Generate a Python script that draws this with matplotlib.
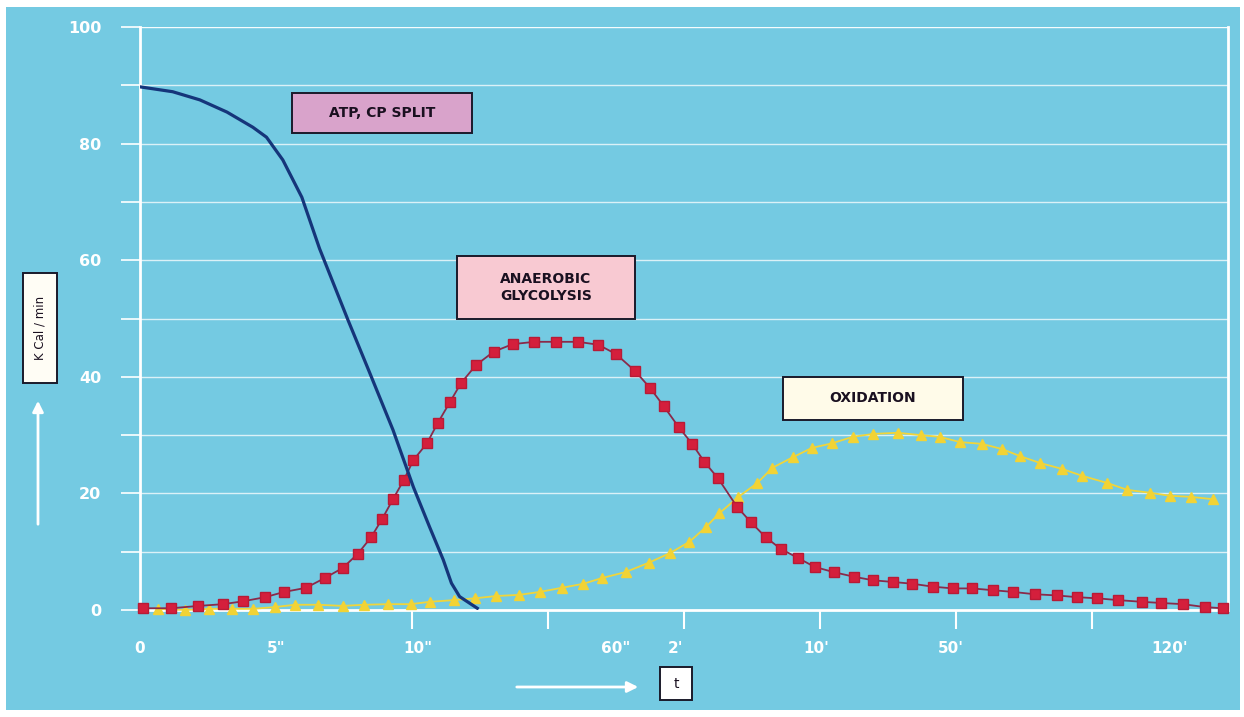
import matplotlib
matplotlib.use('Agg')
import matplotlib.pyplot as plt
from matplotlib.patches import Rectangle

# x in tick units (0 = start, each major tick = 1 step), y in K Cal / min
atp_x = [0.01, 0.24, 0.44, 0.64, 0.83, 0.93, 1.05, 1.19, 1.32, 1.53, 1.68, 1.86, 2.01, 2.13, 2.23, 2.29, 2.35, 2.48]
atp_y = [89.7, 88.9, 87.5, 85.4, 82.8, 81.1, 77.2, 70.8, 62.0, 49.7, 41.2, 30.9, 21.1, 14.2, 8.6, 4.6, 2.3, 0.3]

anaer_x = [0.02, 0.23, 0.43, 0.61, 0.76, 0.92, 1.06, 1.22, 1.36, 1.49, 1.60, 1.70, 1.78, 1.86, 1.94,
           2.01, 2.11, 2.19, 2.28, 2.36, 2.47, 2.60, 2.74, 2.90, 3.06, 3.22, 3.37, 3.50, 3.64, 3.75,
           3.85, 3.96, 4.06, 4.15, 4.25, 4.39, 4.49, 4.60, 4.71, 4.84, 4.96, 5.10, 5.25, 5.39, 5.54,
           5.68, 5.83, 5.98, 6.12, 6.27, 6.42, 6.58, 6.74, 6.89, 7.04, 7.19, 7.37, 7.51, 7.67, 7.83, 7.96]
anaer_y = [0.3, 0.3, 0.7, 1.0, 1.5, 2.2, 3.1, 3.8, 5.5, 7.2, 9.6, 12.5, 15.6, 19.0, 22.3,
           25.7, 28.6, 32.1, 35.7, 38.9, 42.0, 44.3, 45.6, 46.0, 46.0, 46.0, 45.5, 43.9, 41.0, 38.1,
           35.0, 31.4, 28.5, 25.4, 22.6, 17.7, 15.1, 12.5, 10.5, 8.9, 7.4, 6.5, 5.7, 5.1, 4.8,
           4.5, 4.0, 3.7, 3.7, 3.4, 3.1, 2.7, 2.5, 2.2, 2.0, 1.7, 1.4, 1.2, 1.0, 0.5, 0.3]

oxid_x = [0.13, 0.33, 0.51, 0.68, 0.83, 0.99, 1.14, 1.31, 1.49, 1.65, 1.82, 1.99, 2.13, 2.31, 2.46,
          2.62, 2.79, 2.94, 3.10, 3.26, 3.40, 3.57, 3.74, 3.90, 4.04, 4.16, 4.26, 4.40, 4.54, 4.65,
          4.80, 4.94, 5.09, 5.24, 5.39, 5.57, 5.74, 5.88, 6.03, 6.19, 6.34, 6.47, 6.62, 6.78, 6.93,
          7.11, 7.26, 7.43, 7.57, 7.73, 7.89]
oxid_y = [0.2, 0.0, 0.2, 0.2, 0.2, 0.5, 0.9, 0.9, 0.7, 0.9, 1.0, 1.0, 1.4, 1.7, 2.0,
          2.4, 2.6, 3.1, 3.8, 4.5, 5.5, 6.5, 8.1, 9.8, 11.7, 14.2, 16.6, 19.4, 21.8, 24.4,
          26.2, 27.8, 28.6, 29.7, 30.2, 30.4, 30.0, 29.7, 28.8, 28.5, 27.6, 26.4, 25.2, 24.2, 23.0,
          21.8, 20.6, 20.1, 19.6, 19.4, 19.0]

label_pos = [0, 1, 2.04, 3.5, 3.94, 4.97, 5.96, 7.57]
label_txt = ['0', '5"', '10"', '60"', "2'", "10'", "50'", "120'"]
y_labels = [0, 20, 40, 60, 80, 100]

W, H = 1244, 717
bg = '#74cae2'

fig = plt.figure(figsize=(W / 100, H / 100), dpi=100, facecolor='white')
fig.add_artist(Rectangle((6 / W, 7 / H), 1234 / W, 703 / H, transform=fig.transFigure,
                         facecolor=bg, edgecolor='none', zorder=-10))

ax = fig.add_axes([140 / W, 1 - 610 / H, 1088 / W, 583 / H])
ax.set_facecolor('none')
ax.set_xlim(0, 8)
ax.set_ylim(0, 100)

for s in ['left', 'bottom', 'right']:
    ax.spines[s].set_color('white')
    ax.spines[s].set_linewidth(2)
ax.spines['top'].set_visible(False)

# grid every 10
for g in range(10, 101, 10):
    ax.axhline(g, color='white', lw=1.0, alpha=0.75 if g < 100 else 0.95, zorder=1)

ax.set_yticks(range(0, 101, 10))
ax.set_yticklabels([str(v) if v in y_labels else '' for v in range(0, 101, 10)])
ax.tick_params(axis='y', colors='white', length=14, width=1.2, pad=14, labelsize=11.5)
for t in ax.get_yticklabels():
    t.set_fontweight('bold')

ax.set_xticks(label_pos)
ax.set_xticklabels(label_txt)
ax.set_xticks(range(0, 8), minor=True)
ax.tick_params(axis='x', which='major', length=0, pad=22, colors='white', labelsize=11)
ax.tick_params(axis='x', which='minor', length=14, width=1.5, color='white')
for t in ax.get_xticklabels():
    t.set_fontweight('bold')

ax.plot(anaer_x, anaer_y, color='#8a2a4a', lw=1.3, marker='s', markersize=6.5,
        markerfacecolor='#d41f3c', markeredgecolor='#b81a36', zorder=4, clip_on=False)
ax.plot(oxid_x, oxid_y, color='#f0d53a', lw=1.3, marker='^', markersize=6.5,
        markerfacecolor='#f2d335', markeredgecolor='#f2d335', zorder=3, clip_on=False)
ax.plot(atp_x, atp_y, color='#15357a', lw=2.3, zorder=5)


def box(x0, y0, w, h, fc, text, fs=10, rot=0, weight='bold'):
    fig.add_artist(Rectangle((x0 / W, 1 - (y0 + h) / H), w / W, h / H, transform=fig.transFigure,
                             facecolor=fc, edgecolor='#1a1a2a', lw=1.4, zorder=6))
    fig.text((x0 + w / 2) / W, 1 - (y0 + h / 2) / H, text, ha='center', va='center',
             fontsize=fs, fontweight=weight, rotation=rot, color='#1a1020', zorder=7,
             linespacing=1.3)


box(292, 93, 180, 40, '#d9a3cb', 'ATP, CP SPLIT')
box(457, 256, 178, 63, '#f8c9d2', 'ANAEROBIC\nGLYCOLYSIS')
box(783, 377, 180, 43, '#fffbe9', 'OXIDATION')
box(23, 273, 34, 110, '#fffdf5', 'K Cal / min', fs=8.5, rot=90, weight='normal')
box(660, 667, 32, 33, '#ffffff', 't', fs=10, weight='normal')

# arrows
plt.annotate('', xy=(641, H - 687), xytext=(514, H - 687), xycoords='figure pixels',
             textcoords='figure pixels',
             arrowprops=dict(arrowstyle='-|>', color='white', lw=2, mutation_scale=16))
plt.annotate('', xy=(38, H - 398), xytext=(38, H - 527), xycoords='figure pixels',
             textcoords='figure pixels',
             arrowprops=dict(arrowstyle='-|>', color='white', lw=2, mutation_scale=16))

plt.savefig('out.png', dpi=100, facecolor='white')
